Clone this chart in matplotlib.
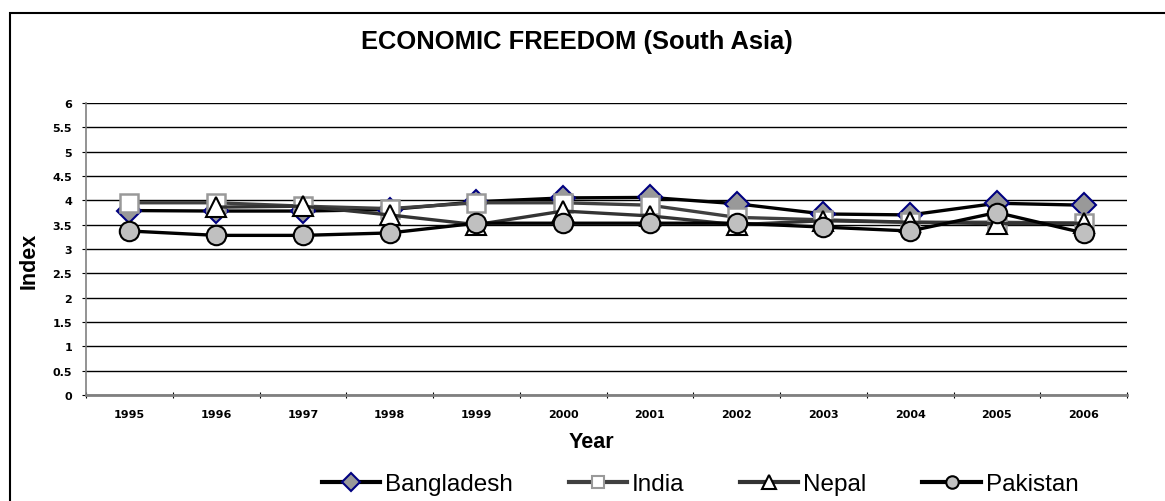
import matplotlib
matplotlib.use("Agg")
import matplotlib.pyplot as plt
import numpy as np
from matplotlib.patches import Rectangle
from matplotlib.ticker import FixedLocator, NullFormatter

plt.rcParams['font.family'] = ['Liberation Sans', 'DejaVu Sans']

years = ['1995', '1996', '1997', '1998', '1999', '2000', '2001', '2002', '2003', '2004', '2005', '2006']
bangladesh = [3.79, 3.78, 3.78, 3.81, 3.97, 4.05, 4.06, 3.93, 3.72, 3.70, 3.94, 3.90]
india = [3.95, 3.95, 3.88, 3.83, 3.95, 3.95, 3.90, 3.65, 3.60, 3.55, 3.55, 3.53]
nepal = [np.nan, 3.86, 3.88, 3.70, 3.50, 3.78, 3.68, 3.50, 3.58, 3.55, 3.52, 3.53]
pakistan = [3.37, 3.28, 3.28, 3.33, 3.53, 3.53, 3.53, 3.53, 3.45, 3.37, 3.75, 3.33]
yticks = [0, 0.5, 1, 1.5, 2, 2.5, 3, 3.5, 4, 4.5, 5, 5.5, 6]

W, H = 1165, 502
fig = plt.figure(figsize=(W / 100, H / 100), dpi=100)
ax = fig.add_axes([86 / W, 106 / H, (1127 - 86) / W, (396 - 104) / H])

x = list(range(len(years)))
series = [
    ('Bangladesh', bangladesh, dict(color='black', lw=2.4, marker='D', ms=12, mfc='#999999', mec='#000080', mew=1.5)),
    ('India', india, dict(color='#404040', lw=2.4, marker='s', ms=13, mfc='white', mec='#999999', mew=1.8)),
    ('Nepal', nepal, dict(color='#333333', lw=2.4, marker='^', ms=14, mfc='white', mec='black', mew=1.5)),
    ('Pakistan', pakistan, dict(color='black', lw=2.4, marker='o', ms=14, mfc='#C0C0C0', mec='black', mew=1.5)),
]
for name, vals, st in series:
    ax.plot(x, vals, label=name, zorder=3, **st)

ax.set_xlim(-0.5, 11.5)
ax.set_ylim(0, 6)
ax.set_yticks(yticks)
ax.set_yticklabels([('%g' % v) for v in yticks], fontsize=8, fontweight='bold', family='DejaVu Sans')
ax.yaxis.grid(True, color='black', lw=1)
ax.set_axisbelow(True)

ax.xaxis.set_major_locator(FixedLocator([i - 0.5 for i in range(len(years) + 1)]))
ax.xaxis.set_major_formatter(NullFormatter())
ax.set_xticks(x, minor=True)
ax.set_xticklabels(years, minor=True, fontsize=8, fontweight='bold', family='DejaVu Sans')
ax.tick_params(axis='x', which='minor', length=0, pad=10)
ax.tick_params(axis='x', which='major', length=4, direction='inout', color='black')
ax.tick_params(axis='y', length=3, direction='out', pad=7)

for s in ['top', 'right']:
    ax.spines[s].set_visible(False)
ax.spines['left'].set_color('#808080')
ax.spines['left'].set_linewidth(1.2)
ax.spines['bottom'].set_color('#808080')
ax.spines['bottom'].set_linewidth(2)

fig.text(591 / W, 1 - 443 / H, 'Year', ha='center', va='center', fontsize=15.5, fontweight='bold')
fig.text(29 / W, 1 - 261 / H, 'Index', ha='center', va='center', rotation=90, fontsize=15.5, fontweight='bold')

fig.text(577 / W, 1 - 48.5 / H, 'ECONOMIC FREEDOM (South Asia)', ha='center', va='baseline',
         fontsize=18.4, fontweight='bold')

leg_ms = {'Bangladesh': 9, 'India': 9, 'Nepal': 10, 'Pakistan': 9}
leg_handles = []
for name, vals, st in series:
    st2 = dict(st)
    st2['ms'] = leg_ms[name]
    st2['mew'] = 1.5
    st2['lw'] = 3
    h, = ax.plot([], [], **st2)
    leg_handles.append(h)
fig.legend(leg_handles, [s[0] for s in series], loc='center', bbox_to_anchor=(700 / W, 1 - 485 / H),
           ncol=4, frameon=False, fontsize=17.5, handlelength=2.4, handletextpad=0.2,
           columnspacing=2.3, borderpad=0.2)

fig.patches.append(Rectangle((10 / W, -0.1), 1.2, 1 - 14 / H + 0.1, transform=fig.transFigure,
                             fill=False, edgecolor='black', lw=1.5))

fig.savefig('out.png', dpi=100)
